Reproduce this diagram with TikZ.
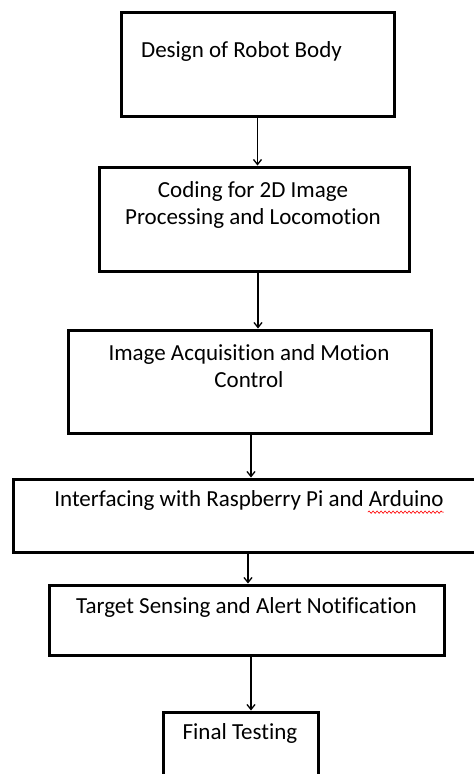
\documentclass[tikz,border=0pt]{standalone}
\usepackage{fontspec}
\setmainfont[Ligatures=NoCommon]{Carlito}
\usetikzlibrary{arrows.meta,decorations.pathmorphing}

\begin{document}
\begin{tikzpicture}[x=1pt,y=-1pt,
        spell/.style={draw=red,line width=0.6pt,decorate,decoration={snake,segment length=4pt,amplitude=1.2pt}}]

        \useasboundingbox (0,0) rectangle (474,774);
        \clip (0,0) rectangle (474,774);

        \begin{scope}[every node/.style={rectangle,draw,line width=3pt,inner sep=0pt}]
          \node[minimum width=273pt,minimum height=104pt] (b1) at (257.5,64)  {};
          \node[minimum width=310pt,minimum height=104pt] (b2) at (254,219)   {};
          \node[minimum width=363pt,minimum height=103pt] (b3) at (249.5,381.5) {};
          \node[minimum width=477pt,minimum height=73pt]  (b4) at (251.5,515.5) {};
          \node[minimum width=395pt,minimum height=70pt]  (b5) at (246.5,620) {};
          \node[minimum width=155pt,minimum height=78pt]  (b6) at (240.5,751) {};
        \end{scope}

        \begin{scope}[every node/.style={align=center,inner sep=0pt,font=\fontsize{23}{27}\selectfont}]
          \node (t1) at (241.5,51)  {Design of Robot Body};
          \node (t2) at (253,204.5) {Coding for 2D Image\\Processing and Locomotion};
          \node (t3) at (249,366.5) {Image Acquisition and Motion\\Control};
          \node (t4) at (249,500)   {Interfacing with Raspberry Pi and Arduino};
          \node (t5) at (246.5,607) {Target Sensing and Alert Notification};
          \node (t6) at (240,733)   {Final Testing};
        \end{scope}

        % spell-check mark under the last word
        \draw[spell] ([xshift=-76pt,yshift=-2pt]t4.south east) -- ([yshift=-2pt]t4.south east);

        \begin{scope}[every edge/.style={draw,line width=1.3pt,-{Straight Barb[length=5pt,width=8pt]}}]
          \path (b1.south) edge (b1.south |- b2.north);
          \path ([xshift=4pt]b2.south) edge ([xshift=4pt]b2.south |- b3.north);
          \path ([xshift=1.5pt]b3.south) edge ([xshift=1.5pt]b3.south |- b4.north);
          \path ([xshift=-3.5pt]b4.south) edge ([xshift=-3.5pt]b4.south |- b5.north);
          \path ([xshift=4.5pt]b5.south) edge ([xshift=4.5pt]b5.south |- b6.north);
        \end{scope}

      \end{tikzpicture}
\end{document}
